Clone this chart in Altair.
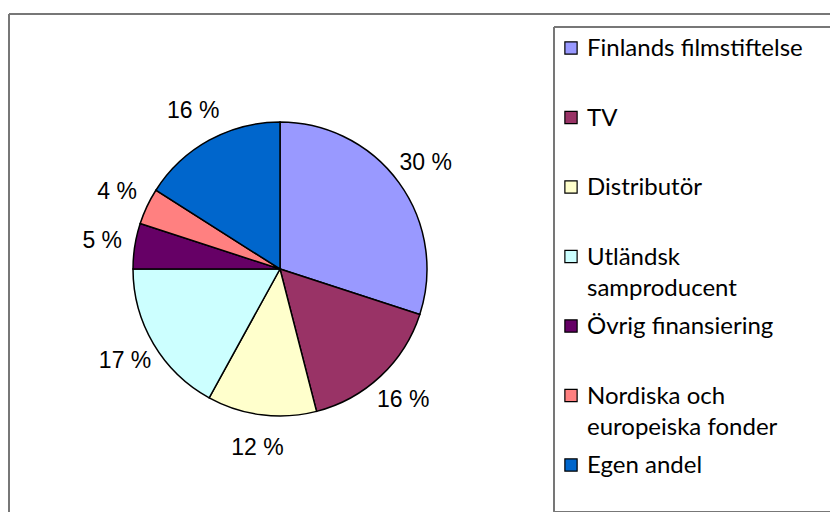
import altair as alt
import pandas as pd

categories = ["Finlands filmstiftelse", "TV", "Distributör", "Utländsk samproducent",
              "Övrig finansiering", "Nordiska och europeiska fonder", "Egen andel"]
legend_labels = ["Finlands filmstiftelse", "TV", "Distributör", "Utländsk\nsamproducent",
                 "Övrig finansiering", "Nordiska och\neuropeiska fonder", "Egen andel"]
values = [30, 16, 12, 17, 5, 4, 16]
colors = ["#9999FF", "#993366", "#FFFFCC", "#CCFFFF", "#660066", "#FF8080", "#0066CC"]

df = pd.DataFrame({
    "cat": categories,
    "legend": legend_labels,
    "value": values,
    "idx": list(range(len(categories))),
    "label": [f"{v} %" for v in values],
})

W, H = 821, 498
CX, CY, R = 271, 255, 147

color = alt.Color("cat:N", scale=alt.Scale(domain=categories, range=colors), legend=None)
base = alt.Chart(df)

pie = base.mark_arc(stroke="black", strokeWidth=1.5, radius=R).encode(
    theta=alt.Theta("value:Q", stack=True),
    order=alt.Order("idx:Q"),
    color=color,
    x=alt.value(CX), y=alt.value(CY),
)

labels = base.mark_text(radius=R + 33, font="Liberation Sans", fontSize=23, color="black").encode(
    theta=alt.Theta("value:Q", stack=True),
    order=alt.Order("idx:Q"),
    text="label:N",
    x=alt.value(CX), y=alt.value(CY),
)

rowy = alt.Y("cat:N", scale=alt.Scale(domain=categories, range=[34, 451], padding=0), axis=None)

squares = base.mark_square(size=150, stroke="black", strokeWidth=1.2, opacity=1).encode(
    x=alt.value(562), y=rowy, color=color,
)
legtext = base.mark_text(align="left", baseline="alphabetic", dy=8, lineBreak="\n",
                         lineHeight=31, font="Lato", fontSize=24, color="black").encode(
    x=alt.value(578), y=rowy, text="legend:N",
)

border_color = "#777777"
outer_top = base.mark_rule(color=border_color, strokeWidth=1.5).encode(
    x=alt.value(0), x2=alt.value(W), y=alt.value(0))
outer_left = base.mark_rule(color=border_color, strokeWidth=1.5).encode(
    x=alt.value(0), y=alt.value(0), y2=alt.value(H))
leg_top = base.mark_rule(color=border_color, strokeWidth=1.2).encode(
    x=alt.value(545), x2=alt.value(W), y=alt.value(13))
leg_left = base.mark_rule(color=border_color, strokeWidth=1.2).encode(
    x=alt.value(545), y=alt.value(13), y2=alt.value(H - 0.5))
leg_bottom = base.mark_rule(color=border_color, strokeWidth=1.2).encode(
    x=alt.value(545), x2=alt.value(W), y=alt.value(H - 0.5))

chart = alt.layer(
    outer_top, outer_left, leg_top, leg_left, leg_bottom,
    pie, labels, squares, legtext,
).properties(
    width=W, height=H,
    autosize=alt.AutoSizeParams(type="none"),
    padding={"left": 1, "top": 6, "right": 0, "bottom": 0},
).configure_view(stroke=None).configure(background="white")

chart.save("out.html", embed_options={"renderer": "svg", "actions": False})
